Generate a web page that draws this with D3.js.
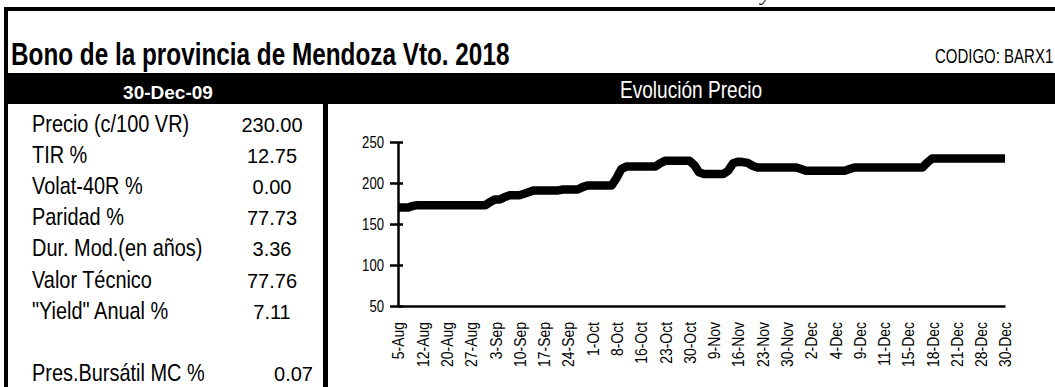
<!DOCTYPE html>
<html>
<head>
<meta charset="utf-8">
<script src="https://cdn.jsdelivr.net/npm/d3@7"></script>
<style>
  html, body { margin: 0; padding: 0; background: #fff; overflow: hidden; }
  svg { display: block; }
</style>
</head>
<body>
<svg id="sheet" width="1055" height="387"></svg>
<script>
// ---- content ----
const bondTitle = "Bono de la provincia de Mendoza Vto. 2018";
const bondCode = "CODIGO: BARX1";
const quoteDate = "30-Dec-09";
const chartTitle = "Evolución Precio";

const metricLabels = [
  "Precio (c/100 VR)", "TIR %", "Volat-40R %", "Paridad %",
  "Dur. Mod.(en años)", "Valor Técnico", "\"Yield\" Anual %"
];
const metricValues = ["230.00", "12.75", "0.00", "77.73", "3.36", "77.76", "7.11"];
const footLabel = "Pres.Bursátil MC %";
const footValue = "0.07";

// date labels shown under every fifth session
const tickLabels = [
  "5-Aug", "12-Aug", "20-Aug", "27-Aug", "3-Sep", "10-Sep", "17-Sep", "24-Sep",
  "1-Oct", "8-Oct", "16-Oct", "23-Oct", "30-Oct", "9-Nov", "16-Nov", "23-Nov",
  "30-Nov", "2-Dec", "4-Dec", "9-Dec", "11-Dec", "15-Dec", "18-Dec", "21-Dec",
  "28-Dec", "30-Dec"
];
const yTicks = [50, 100, 150, 200, 250];

// closing price per session (c/100 VR)
const prices = [
  170, 170, 170, 172, 173, 173, 173, 173, 173, 173,
  173, 173, 173, 173, 173, 173, 173, 173, 173, 177,
  180, 180, 183, 185, 185, 185, 187, 189, 191, 191,
  191, 191, 191, 191, 192, 192, 192, 192, 195, 197,
  197, 197, 197, 197, 197, 206, 217, 220, 220, 220,
  220, 220, 220, 220, 224, 227, 227, 227, 227, 227,
  227, 222, 213, 211, 211, 211, 211, 211, 215, 224,
  226, 225.5, 224.5, 221, 219, 219, 219, 219, 219, 219,
  219, 219, 219, 217, 215, 215, 215, 215, 215, 215,
  215, 215, 215, 217, 219, 219, 219, 219, 219, 219,
  219, 219, 219, 219, 219, 219, 219, 219, 219, 225,
  230, 230, 230, 230, 230, 230, 230, 230, 230, 230,
  230, 230, 230, 230, 230, 230
];

// ---- drawing ----
const svg = d3.select("#sheet");
const SANS = "'Liberation Sans', Arial, sans-serif";

// condensed text: regular sans squeezed horizontally
function narrowText(parent, str, x, y, size, sx, anchor, weight, fill) {
  return parent.append("text")
    .attr("transform", `translate(${x},${y}) scale(${sx},1)`)
    .attr("font-family", SANS)
    .attr("font-size", size)
    .attr("font-weight", weight || "normal")
    .attr("text-anchor", anchor || "start")
    .attr("fill", fill || "#000")
    .text(str);
}

// stray glyph from the line above the frame
svg.append("text")
  .attr("x", 761).attr("y", 0)
  .attr("font-family", "'Liberation Serif', serif")
  .attr("font-style", "italic")
  .attr("font-size", 22)
  .text("y");

// outer frame of the title block
svg.append("rect").attr("x", 4).attr("y", 7).attr("width", 1051).attr("height", 4).attr("fill", "#000");
svg.append("rect").attr("x", 4).attr("y", 7).attr("width", 4).attr("height", 70).attr("fill", "#000");

narrowText(svg, bondTitle, 11, 65, 32, 0.76, "start", "bold");
narrowText(svg, bondCode, 935, 63, 20, 0.75);

// black header band
svg.append("rect").attr("x", 4).attr("y", 73).attr("width", 1051).attr("height", 31).attr("fill", "#000");
svg.append("text")
  .attr("x", 168).attr("y", 99)
  .attr("font-family", SANS).attr("font-size", 19).attr("font-weight", "bold")
  .attr("text-anchor", "middle").attr("fill", "#fff")
  .text(quoteDate);
narrowText(svg, chartTitle, 691, 98, 23, 0.83, "middle", "normal", "#fff");

// metrics panel borders
svg.append("rect").attr("x", 4).attr("y", 104).attr("width", 4).attr("height", 283).attr("fill", "#000");
svg.append("rect").attr("x", 323).attr("y", 104).attr("width", 5).attr("height", 283).attr("fill", "#000");

const rowY = i => 131.5 + i * 31.2;
const panel = svg.append("g");
metricLabels.forEach((lab, i) => {
  narrowText(panel, lab, 32, rowY(i), 24, 0.83);
  panel.append("text")
    .attr("x", 272).attr("y", rowY(i))
    .attr("font-family", SANS).attr("font-size", 20)
    .attr("text-anchor", "middle")
    .text(metricValues[i]);
});
narrowText(panel, footLabel, 32, rowY(metricLabels.length + 1), 24, 0.83);
panel.append("text")
  .attr("x", 313).attr("y", rowY(metricLabels.length + 1))
  .attr("font-family", SANS).attr("font-size", 20)
  .attr("text-anchor", "end")
  .text(footValue);

// price chart
const x = d3.scaleLinear().domain([0, prices.length - 1]).range([398, 1005]);
const y = d3.scaleLinear().domain([50, 250]).range([306, 142]);

const step = (prices.length - 1) / (tickLabels.length - 1);
const tickIdx = tickLabels.map((_, k) => k * step);

const yAxis = svg.append("g")
  .attr("transform", `translate(${x(0)},0)`)
  .call(d3.axisLeft(y).tickValues(yTicks).tickSizeInner(7).tickSizeOuter(0).tickPadding(7));
yAxis.select(".domain").attr("stroke", "#000").attr("stroke-width", 2.5);
yAxis.selectAll(".tick line").attr("x1", 5).attr("x2", -8).attr("stroke", "#000").attr("stroke-width", 2.5);
yAxis.selectAll(".tick text").each(function () {
  const t = d3.select(this);
  const tx = +t.attr("x");
  t.attr("x", null)
    .attr("transform", `translate(${tx},0) scale(0.82,1)`)
    .attr("font-family", SANS).attr("font-size", 16).attr("fill", "#000");
});

const xAxis = svg.append("g")
  .attr("transform", `translate(0,${y(50)})`)
  .call(d3.axisBottom(x).tickValues(tickIdx)
    .tickFormat((d, k) => tickLabels[k]).tickSize(0).tickSizeOuter(0));
xAxis.select(".domain").attr("stroke", "#000").attr("stroke-width", 2.5);
xAxis.selectAll(".tick text")
  .attr("y", null).attr("dy", "0.35em")
  .attr("transform", "rotate(-90) translate(-16,0) scale(0.82,1)")
  .attr("text-anchor", "end")
  .attr("font-family", SANS).attr("font-size", 17).attr("fill", "#000");

svg.append("path")
  .datum(prices)
  .attr("fill", "none")
  .attr("stroke", "#000")
  .attr("stroke-width", 8.5)
  .attr("stroke-linejoin", "round")
  .attr("stroke-linecap", "butt")
  .attr("d", d3.line().x((d, i) => x(i)).y(d => y(d)));
</script>
</body>
</html>
